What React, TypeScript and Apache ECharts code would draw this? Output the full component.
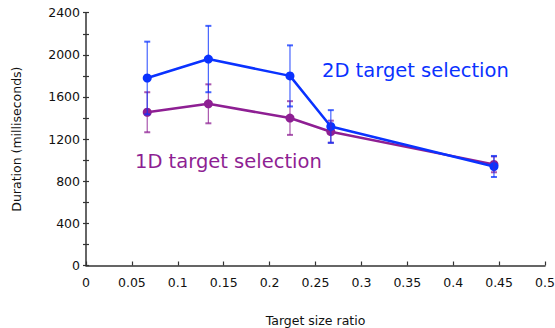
import React, { useEffect, useRef } from "react";
import * as echarts from "echarts";

const ratios = [0.0667, 0.1333, 0.2222, 0.2667, 0.4444];
const mean2D = [1780, 1960, 1800, 1320, 940];
const err2D = [345, 315, 290, 155, 100];
const mean1D = [1455, 1535, 1400, 1270, 960];
const err1D = [190, 185, 160, 105, 75];
const xTicks = [0, 0.05, 0.1, 0.15, 0.2, 0.25, 0.3, 0.35, 0.4, 0.45, 0.5];
const yLabelled = [0, 400, 800, 1200, 1600, 2000, 2400];

const BLUE = "#0a32ff";
const PURPLE = "#8e1f93";
const FONT = "DejaVu Sans";

function errSeries(name: string, means: number[], errs: number[], color: string) {
  return {
    type: "custom",
    name,
    z: 5,
    data: ratios.map((x, i) => [x, means[i] - errs[i], means[i] + errs[i]]),
    renderItem: (params: any, api: any) => {
      const x = api.value(0);
      const lo = api.coord([x, api.value(1)]);
      const hi = api.coord([x, api.value(2)]);
      const cw = 3;
      const style = { stroke: color, lineWidth: 1.2, opacity: 0.75 };
      return {
        type: "group",
        children: [
          { type: "line", shape: { x1: lo[0], y1: lo[1], x2: hi[0], y2: hi[1] }, style },
          { type: "line", shape: { x1: lo[0] - cw, y1: lo[1], x2: lo[0] + cw, y2: lo[1] }, style: { ...style, lineWidth: 2 } },
          { type: "line", shape: { x1: hi[0] - cw, y1: hi[1], x2: hi[0] + cw, y2: hi[1] }, style: { ...style, lineWidth: 2 } },
        ],
      };
    },
  };
}

export default function App() {
  const ref = useRef<HTMLDivElement>(null);
  useEffect(() => {
    const chart = echarts.init(ref.current!, null, { renderer: "svg" });
    const axisColor = "#333";
    chart.setOption({
      animation: false,
      textStyle: { fontFamily: FONT },
      grid: { left: 86, right: 10, top: 12.7, bottom: 62.5, containLabel: false, outerBoundsMode: "none" },
      xAxis: {
        type: "value",
        min: 0,
        max: 0.5,
        interval: 0.05,
        name: "Target size ratio",
        nameLocation: "middle",
        nameGap: 48,
        nameTextStyle: { fontSize: 12.5, color: "#111", fontFamily: FONT },
        axisLine: { lineStyle: { color: axisColor, width: 1.5 } },
        axisTick: { inside: true, length: 4, lineStyle: { color: axisColor, width: 1.2 } },
        axisLabel: {
          fontSize: 12.5,
          color: "#111",
          margin: 10,
          formatter: (v: number) => {
            const t = xTicks.find((k) => Math.abs(k - v) < 1e-6);
            return t === undefined ? "" : String(t);
          },
        },
        splitLine: { show: false },
      },
      yAxis: [
        {
          type: "value",
          min: 0,
          max: 2400,
          interval: 200,
          name: "Duration (milliseconds)",
          nameLocation: "middle",
          nameGap: 63,
          nameTextStyle: { fontSize: 12.5, color: "#111", fontFamily: FONT },
          axisLine: { show: true, lineStyle: { color: axisColor, width: 1.5 } },
          axisTick: { show: true, length: 3, lineStyle: { color: axisColor, width: 1.2 } },
          axisLabel: {
            fontSize: 12.5,
            color: "#111",
            margin: 6,
            formatter: (v: number) => (yLabelled.includes(v) ? String(v) : ""),
          },
          splitLine: { show: false },
        },
        {
          type: "value",
          min: 0,
          max: 2400,
          interval: 200,
          position: "left",
          axisLine: { show: false },
          axisTick: { show: true, inside: true, length: 3, lineStyle: { color: axisColor, width: 1.2 } },
          axisLabel: { show: false },
          splitLine: { show: false },
        },
      ],
      series: [
        {
          type: "line",
          name: "1D target selection",
          data: ratios.map((x, i) => [x, mean1D[i]]),
          symbol: "circle",
          symbolSize: 9,
          z: 3,
          lineStyle: { color: PURPLE, width: 2.5 },
          itemStyle: { color: PURPLE },
        },
        {
          type: "line",
          name: "2D target selection",
          data: ratios.map((x, i) => [x, mean2D[i]]),
          symbol: "circle",
          symbolSize: 9,
          z: 4,
          lineStyle: { color: BLUE, width: 2.5 },
          itemStyle: { color: BLUE },
        },
        errSeries("1D err", mean1D, err1D, PURPLE),
        errSeries("2D err", mean2D, err2D, BLUE),
      ],
      graphic: [
        {
          type: "text",
          left: 322,
          top: 60,
          style: { text: "2D target selection", fill: BLUE, fontSize: 19.5, fontFamily: FONT },
        },
        {
          type: "text",
          left: 135,
          top: 151,
          style: { text: "1D target selection", fill: PURPLE, fontSize: 19.5, fontFamily: FONT },
        },
      ],
    });
    return () => chart.dispose();
  }, []);
  return <div ref={ref} style={{ width: 555, height: 328, position: "absolute", left: 0, top: 0 }} />;
}
